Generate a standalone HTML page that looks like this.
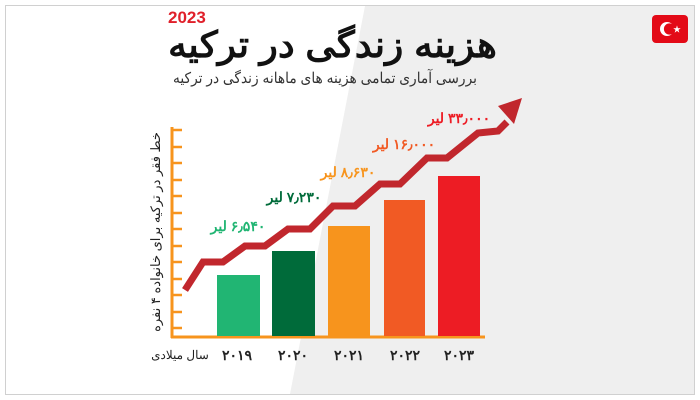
<!DOCTYPE html>
<html><head><meta charset="utf-8"><style>
body{margin:0;width:700px;height:400px;overflow:hidden;background:#fff;font-family:"Liberation Sans","Noto Sans CJK SC",sans-serif}
svg{display:block}
</style></head><body>
<svg width="700" height="400" viewBox="0 0 700 400" xmlns="http://www.w3.org/2000/svg">
<rect x="0" y="0" width="700" height="400" fill="#fff"/>
<polygon points="365,6 694,6 694,394 290,394" fill="#efefef"/>
<rect x="5.5" y="5.5" width="689" height="389" fill="none" stroke="#d0d0d0" stroke-width="1"/>
<rect x="652" y="15" width="36" height="28" rx="4" fill="#e30a17"/>
<circle cx="667" cy="29" r="7" fill="#fff"/><circle cx="669.5" cy="29" r="5.6" fill="#e30a17"/>
<text x="677" y="32" font-size="8" fill="#fff" text-anchor="middle">★</text>
<text x="168" y="23" font-size="17" font-weight="bold" fill="#e0202a">2023</text>
<text x="497" y="57" font-size="36" font-weight="bold" fill="#111" text-anchor="start" direction="rtl" textLength="329" lengthAdjust="spacingAndGlyphs">هزینه زندگی در ترکیه</text>
<text x="477" y="83" font-size="15" fill="#333" text-anchor="start" direction="rtl" textLength="304" lengthAdjust="spacingAndGlyphs">بررسی آماری تمامی هزینه های ماهانه زندگی در ترکیه</text>
<g fill="none" stroke="#f7941d" stroke-width="3">
<line x1="172" y1="127" x2="172" y2="338"/>
<line x1="171" y1="337" x2="485" y2="337"/>
</g>
<g stroke="#f7941d" stroke-width="2.5">
<line x1="172" y1="130" x2="182" y2="130"/><line x1="172" y1="147" x2="182" y2="147"/>
<line x1="172" y1="163" x2="182" y2="163"/><line x1="172" y1="180" x2="182" y2="180"/>
<line x1="172" y1="196" x2="182" y2="196"/><line x1="172" y1="213" x2="182" y2="213"/>
<line x1="172" y1="229" x2="182" y2="229"/><line x1="172" y1="246" x2="182" y2="246"/>
<line x1="172" y1="262" x2="182" y2="262"/><line x1="172" y1="279" x2="182" y2="279"/>
<line x1="172" y1="295" x2="182" y2="295"/><line x1="172" y1="312" x2="182" y2="312"/>
<line x1="172" y1="328" x2="182" y2="328"/>
</g>
<rect x="217" y="275" width="43" height="61" fill="#21b573"/>
<rect x="272" y="251" width="43" height="85" fill="#006b3a"/>
<rect x="328" y="226" width="42" height="110" fill="#f7941d"/>
<rect x="384" y="200" width="41" height="136" fill="#f15a24"/>
<rect x="438" y="176" width="42" height="160" fill="#ed1c24"/>
<polyline points="185,290 203,262 223,262 245,246 265,246 288,229 310,229 333,206 355,206 380,184 400,184 427,158 447,158 478,133 498,131 507,122" fill="none" stroke="#c1272d" stroke-width="7" stroke-linejoin="miter"/>
<polygon points="522,98 498,106 514,124" fill="#c1272d"/>
<g font-size="14" font-weight="bold" direction="rtl" text-anchor="middle">
<text x="238" y="231" fill="#21b573">۶٫۵۴۰ لیر</text>
<text x="294" y="202" fill="#006b3a">۷٫۲۳۰ لیر</text>
<text x="348" y="177" fill="#f7941d">۸٫۶۳۰ لیر</text>
<text x="404" y="149" fill="#f15a24">۱۶٫۰۰۰ لیر</text>
<text x="459" y="123" fill="#ed1c24">۳۳٫۰۰۰ لیر</text>
</g>
<g font-size="14" font-weight="bold" fill="#222" text-anchor="middle">
<text x="237" y="360">۲۰۱۹</text>
<text x="293" y="360">۲۰۲۰</text>
<text x="349" y="360">۲۰۲۱</text>
<text x="405" y="360">۲۰۲۲</text>
<text x="459" y="360">۲۰۲۳</text>
<text x="180" y="359" font-size="12" font-weight="normal" direction="rtl">سال میلادی</text>
</g>
<text transform="translate(160,232) rotate(-90)" font-size="13" fill="#222" text-anchor="middle" direction="rtl">خط فقر در ترکیه برای خانواده ۴ نفره</text>
</svg>
</body></html>
